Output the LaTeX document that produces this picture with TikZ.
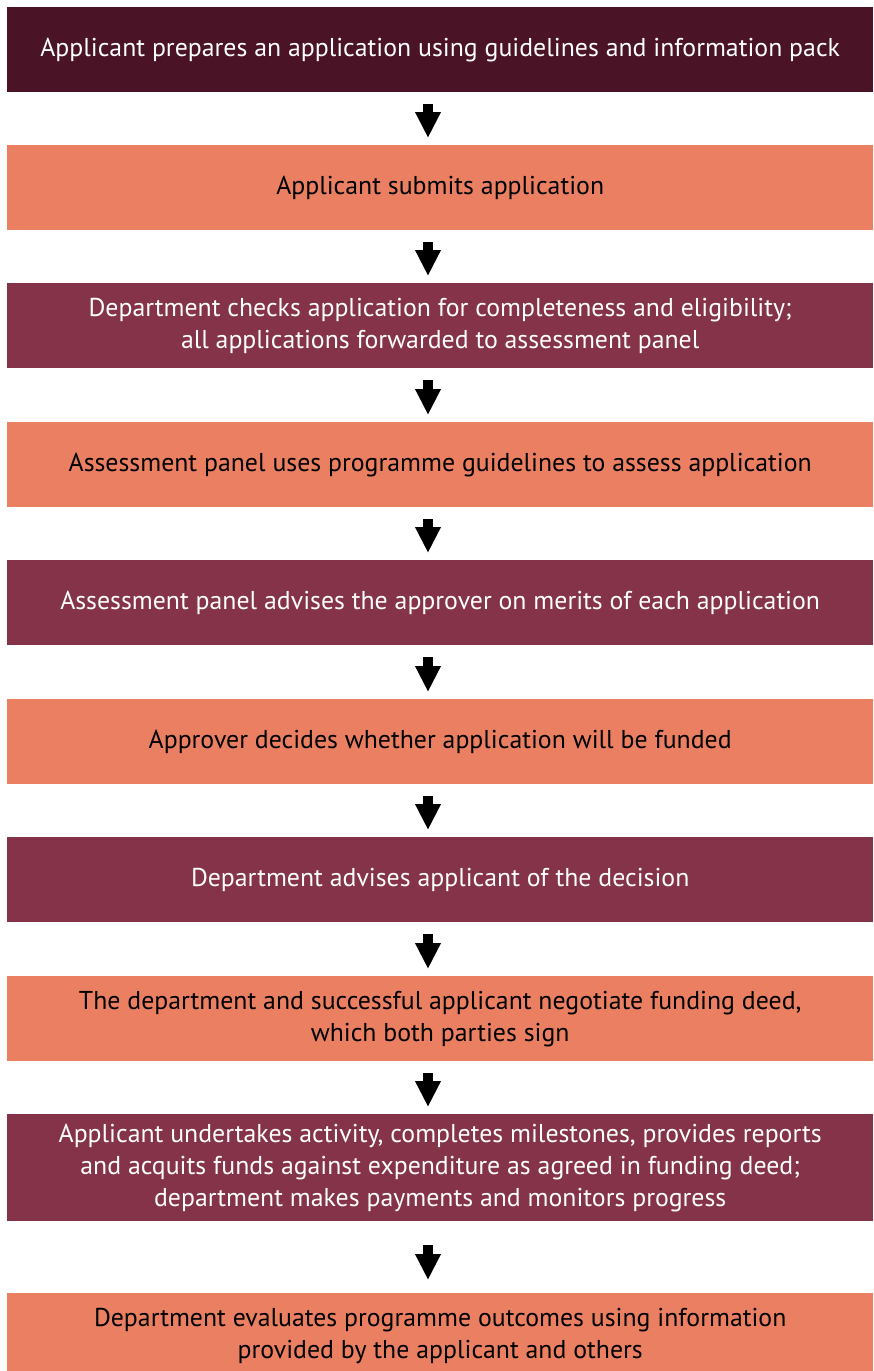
\documentclass[tikz,border=0pt]{standalone}
\usepackage{fontspec}
\setmainfont{PT Sans}
\usetikzlibrary{arrows.meta}

\definecolor{darkplum}{HTML}{4A1426}
\definecolor{plum}{HTML}{853348}
\definecolor{peach}{HTML}{EB7F62}

\tikzset{
  stage/.style={anchor=north west, minimum width=866pt, minimum height=85pt,
    inner sep=0pt, align=center, font=\fontsize{25.8}{32}\selectfont},
  darkstage/.style={stage, fill=darkplum, text=white},
  plumstage/.style={stage, fill=plum, text=white},
  peachstage/.style={stage, fill=peach, text=black},
  flow/.style={line width=10pt, -{Triangle[width=24pt,length=26pt]},
    shorten <=12pt, shorten >=7pt}
}

\begin{document}
\begin{tikzpicture}
\useasboundingbox (0,0) rectangle (873pt,-1371pt);
\coordinate (ax) at (428pt,0);

\node[darkstage] (s1) at (7pt,-7pt) {Applicant prepares an application using guidelines and information pack};
\node[peachstage] (s2) at (7pt,-145pt) {Applicant submits application};
\node[plumstage] (s3) at (7pt,-283pt) {Department checks application for completeness and eligibility;\\ all applications forwarded to assessment panel};
\node[peachstage] (s4) at (7pt,-422pt) {Assessment panel uses programme guidelines to assess application};
\node[plumstage] (s5) at (7pt,-560pt) {Assessment panel advises the approver on merits of each application};
\node[peachstage] (s6) at (7pt,-699pt) {Approver decides whether application will be funded};
\node[plumstage] (s7) at (7pt,-837pt) {Department advises applicant of the decision};
\node[peachstage] (s8) at (7pt,-976pt) {The department and successful applicant negotiate funding deed,\\ which both parties sign};
\node[plumstage, minimum height=107pt] (s9) at (7pt,-1114pt) {Applicant undertakes activity, completes milestones, provides reports\\ and acquits funds against expenditure as agreed in funding deed;\\ department makes payments and monitors progress};
\node[peachstage] (s10) at (7pt,-1293pt) {Department evaluates programme outcomes using information\\ provided by the applicant and others};

% arrows between the stages
\foreach \a/\b in {s1/s2,s2/s3,s3/s4,s4/s5,s5/s6,s6/s7,s7/s8,s8/s9}
  \draw[flow] (\a.south -| ax) -- (\b.north -| ax);
\draw[flow, shorten <=24pt, shorten >=13pt] (s9.south -| ax) -- (s10.north -| ax);
\end{tikzpicture}
\end{document}
